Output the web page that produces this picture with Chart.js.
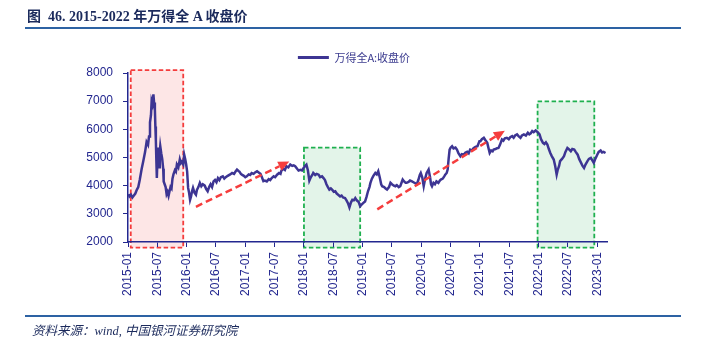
<!DOCTYPE html>
<html><head><meta charset="utf-8">
<script src="https://cdn.jsdelivr.net/npm/chart.js@4.4.0/dist/chart.umd.min.js"></script>
<style>
html,body{margin:0;padding:0;background:#fff;width:701px;height:340px;overflow:hidden}
#wrap{position:relative;width:701px;height:340px}
#c{position:absolute;left:0;top:0}
.title{position:absolute;left:27px;top:5px;font:bold 14px "Liberation Serif","Noto Sans CJK SC",serif;color:#1b2a5c;white-space:nowrap}
.rule{position:absolute;left:25px;width:656px;height:2px;background:#2d62a3}
.src{position:absolute;left:32px;top:320px;font:italic 12.5px "Liberation Serif","Noto Sans CJK SC",serif;color:#1b2a5c;white-space:nowrap}
</style></head>
<body><div id="wrap">
<canvas id="c" width="701" height="340"></canvas>
<div class="title">图&nbsp; 46. 2015-2022 年万得全 A 收盘价</div>
<div class="rule" style="top:27px"></div>
<div class="rule" style="top:315px"></div>
<div class="src">资料来源：wind, 中国银河证券研究院</div>
</div>
<script>
const seriesName = '万得全A:收盘价';
const dates = [
'2015-01-05','2015-01-10','2015-01-19','2015-01-28','2015-02-07','2015-02-16','2015-02-25','2015-03-04','2015-03-13','2015-03-25',
'2015-04-04','2015-04-16','2015-04-25','2015-05-04','2015-05-10','2015-05-16','2015-05-22','2015-05-26','2015-06-01','2015-06-07',
'2015-06-11','2015-06-16','2015-06-19','2015-06-22','2015-06-25','2015-06-28','2015-07-01','2015-07-07','2015-07-10','2015-07-13',
'2015-07-16','2015-07-19','2015-07-25','2015-08-01','2015-08-07','2015-08-10','2015-08-16','2015-08-22','2015-08-28','2015-09-04',
'2015-09-10','2015-09-16','2015-09-22','2015-09-28','2015-10-04','2015-10-10','2015-10-19','2015-10-25','2015-11-01','2015-11-10',
'2015-11-19','2015-11-25','2015-12-01','2015-12-10','2015-12-16','2015-12-22','2015-12-28',
'2016-01-04','2016-01-10','2016-01-16','2016-01-22','2016-01-28','2016-02-04','2016-02-10','2016-02-19','2016-02-28','2016-03-04',
'2016-03-13','2016-03-22','2016-04-01','2016-04-10','2016-04-22','2016-05-01','2016-05-10','2016-05-19','2016-05-28','2016-06-07',
'2016-06-16','2016-06-25','2016-07-04','2016-07-13','2016-07-22','2016-08-01','2016-08-13','2016-08-22','2016-09-01','2016-09-13',
'2016-09-28','2016-10-10','2016-10-22','2016-11-01','2016-11-10','2016-11-19','2016-11-25','2016-12-04','2016-12-10','2016-12-22',
'2017-01-01','2017-01-10','2017-01-22','2017-02-01','2017-02-10','2017-02-22','2017-03-01','2017-03-13','2017-03-25','2017-04-04',
'2017-04-13','2017-04-22','2017-05-01','2017-05-13','2017-05-25','2017-06-04','2017-06-13','2017-06-25','2017-07-04','2017-07-16',
'2017-07-28','2017-08-07','2017-08-13','2017-08-25','2017-09-04','2017-09-13','2017-09-25','2017-10-07','2017-10-19','2017-10-28',
'2017-11-07','2017-11-19','2017-11-28','2017-12-10','2017-12-19','2017-12-28',
'2018-01-07','2018-01-16','2018-01-25','2018-02-04','2018-02-13','2018-02-22','2018-02-28','2018-03-10','2018-03-19','2018-04-01',
'2018-04-10','2018-04-22','2018-05-01','2018-05-10','2018-05-19','2018-05-28','2018-06-07','2018-06-16','2018-06-25','2018-07-04',
'2018-07-13','2018-07-22','2018-08-01','2018-08-13','2018-08-22','2018-09-01','2018-09-13','2018-09-22','2018-10-01','2018-10-10',
'2018-10-19','2018-10-28','2018-11-07','2018-11-16','2018-11-25','2018-12-07','2018-12-16','2018-12-25',
'2019-01-04','2019-01-16','2019-01-25','2019-02-04','2019-02-13','2019-02-19','2019-02-28','2019-03-07','2019-03-19','2019-03-28',
'2019-04-07','2019-04-16','2019-04-25','2019-05-01','2019-05-13','2019-05-22','2019-06-01','2019-06-13','2019-06-22','2019-07-01',
'2019-07-13','2019-07-22','2019-08-01','2019-08-13','2019-08-22','2019-09-01','2019-09-07','2019-09-16','2019-09-25','2019-10-01',
'2019-10-13','2019-10-22','2019-11-04','2019-11-13','2019-11-25','2019-12-04','2019-12-13','2019-12-22','2019-12-28',
'2020-01-07','2020-01-16','2020-01-25','2020-02-04','2020-02-16','2020-02-25','2020-03-01','2020-03-07','2020-03-16','2020-03-25',
'2020-04-04','2020-04-16','2020-04-25','2020-05-01','2020-05-13','2020-05-22','2020-05-28','2020-06-07','2020-06-13','2020-06-19',
'2020-06-25','2020-07-01','2020-07-10','2020-07-19','2020-08-01','2020-08-10','2020-08-19','2020-09-01','2020-09-10','2020-09-22',
'2020-10-01','2020-10-13','2020-10-22','2020-11-01','2020-11-13','2020-11-22','2020-12-04','2020-12-16','2020-12-28',
'2021-01-04','2021-01-13','2021-01-25','2021-02-04','2021-02-16','2021-02-25','2021-03-01','2021-03-10','2021-03-19','2021-03-25',
'2021-04-07','2021-04-16','2021-04-25','2021-05-04','2021-05-16','2021-05-25','2021-06-04','2021-06-16','2021-06-28','2021-07-07',
'2021-07-19','2021-07-28','2021-08-07','2021-08-19','2021-08-28','2021-09-10','2021-09-19','2021-10-01','2021-10-13','2021-10-25',
'2021-11-04','2021-11-13','2021-11-22','2021-12-01','2021-12-13','2021-12-25',
'2022-01-07','2022-01-16','2022-01-28','2022-02-07','2022-02-16','2022-02-25','2022-03-04','2022-03-13','2022-03-22','2022-04-04',
'2022-04-13','2022-04-22','2022-04-28','2022-05-07','2022-05-13','2022-05-25','2022-06-07','2022-06-16','2022-06-28','2022-07-07',
'2022-07-19','2022-07-28','2022-08-10','2022-08-19','2022-09-01','2022-09-10','2022-09-22','2022-10-01','2022-10-10','2022-10-19',
'2022-11-01','2022-11-10','2022-11-22','2022-12-01','2022-12-10','2022-12-19',
'2023-01-01','2023-01-10','2023-01-22','2023-02-01','2023-02-10','2023-02-22'
];
const closes = [
3700,3620,3680,3580,3650,3720,3850,3950,4200,4600,
4850,5200,5550,5450,5750,6250,6500,7000,6900,7240,
6950,6700,6100,5600,4900,4270,4800,5350,4900,4650,
5200,5400,5150,4950,4600,4150,4050,3950,3700,3780,
3640,3800,3950,3900,4250,4400,4550,4500,4750,4650,
4930,4800,4850,4750,5100,4950,4750,
4500,3920,3750,3500,3620,3800,3920,3750,3680,3850,
3950,4100,3980,4050,4000,3880,3800,3950,4050,3950,
4150,4200,4120,4270,4200,4300,4330,4250,4300,4350,
4400,4450,4420,4500,4570,4520,4500,4420,4390,4350,
4300,4330,4400,4380,4450,4420,4470,4510,4460,4420,
4300,4160,4180,4150,4230,4200,4270,4330,4300,4390,
4450,4420,4540,4600,4560,4690,4650,4750,4700,4720,
4690,4600,4540,4560,4540,4620,
4700,4750,4550,4180,4300,4380,4450,4380,4420,4390,
4300,4330,4270,4200,4050,3950,3860,3900,3850,3780,
3800,3720,3680,3620,3650,3580,3560,3480,3380,3230,
3400,3500,3480,3560,3480,3420,3270,3330,
3380,3440,3600,3800,3950,4100,4250,4350,4450,4400,
4510,4300,4050,3980,3950,3900,3860,3950,4100,4050,
4000,3980,4020,3950,3980,4120,4215,4150,4100,4100,
4130,4180,4150,4120,4080,4060,4200,4380,4450,
4300,3980,4250,4450,4570,4300,4050,3980,4100,4050,
4150,4100,4180,4215,4250,4330,4390,4450,4570,4950,
5280,5350,5400,5320,5350,5280,5150,5045,5120,5100,
5165,5200,5150,5280,5250,5330,5380,5400,5580,
5580,5650,5700,5620,5520,5300,5163,5250,5220,5280,
5300,5330,5340,5450,5640,5600,5680,5700,5650,5720,
5760,5700,5780,5820,5760,5700,5780,5820,5780,5880,
5820,5860,5940,5900,5960,5900,
5820,5650,5520,5480,5540,5460,5300,5163,5050,4928,
4700,4393,4550,4700,4870,4950,5045,5200,5340,5300,
5224,5300,5280,5200,5100,4950,4810,4700,4630,4750,
4870,4950,4985,4900,4810,4950,
5100,5200,5250,5180,5200,5160
];
const xTickLabels = ['2015-01','2015-07','2016-01','2016-07','2017-01','2017-07','2018-01','2018-07','2019-01','2019-07',
  '2020-01','2020-07','2021-01','2021-07','2022-01','2022-07','2023-01'];
const yTicks = [2000,3000,4000,5000,6000,7000,8000];
// highlighted periods [start, end, top value, bottom value, kind]
const boxPeriods = [
  ['2015-01-18','2015-12-10', 8100, 1800, 'red'],
  ['2018-01-01','2018-12-16', 5350, 1800, 'green'],
  ['2021-12-25','2022-12-13', 6990, 1800, 'green']
];
// trend arrows [from date, from value, to date, to value]
const trendArrows = [
  ['2016-02-28', 3250, '2017-10-01', 4860],
  ['2019-04-01', 3160, '2021-06-04', 5950]
];

const toX = s => { const [y,m,d] = s.split('-').map(Number); return (y-2015)*12 + (m-1) + ((d||1)-1)/30; };
const points = dates.map((d,i) => ({x: toX(d), y: closes[i]}));
const xTickMap = {};
xTickLabels.forEach(l => { xTickMap[toX(l)] = l; });

const lineColor = '#3d3593';
const axisColor = '#23278f';
const tickFont = {family:'"Liberation Sans", Arial, sans-serif', size:12};

const annot = {
  id:'annot',
  beforeDraw(chart){
    const {ctx, scales:{x,y}} = chart;
    ctx.save();
    boxPeriods.forEach(b => {
      const x0 = x.getPixelForValue(toX(b[0])), x1 = x.getPixelForValue(toX(b[1]));
      const y0 = y.getPixelForValue(b[2]), y1 = y.getPixelForValue(b[3]);
      const red = b[4]==='red';
      ctx.fillStyle = red ? '#fde6e6' : '#e3f4e9';
      ctx.fillRect(x0,y0,x1-x0,y1-y0);
      ctx.setLineDash([4.5,2.5]);
      ctx.lineWidth = 1.8;
      ctx.strokeStyle = red ? '#f43c3c' : '#1fb04f';
      ctx.strokeRect(x0,y0,x1-x0,y1-y0);
    });
    ctx.restore();
  },
  afterDatasetsDraw(chart){
    const {ctx, scales:{x,y}} = chart;
    ctx.save();
    trendArrows.forEach(a => {
      const xa = x.getPixelForValue(toX(a[0])), ya = y.getPixelForValue(a[1]);
      const xb = x.getPixelForValue(toX(a[2])), yb = y.getPixelForValue(a[3]);
      const ang = Math.atan2(yb-ya, xb-xa);
      const hl = 11, hw = 5;
      const xe = xb - Math.cos(ang)*hl, ye = yb - Math.sin(ang)*hl;
      ctx.strokeStyle = '#f53d3d';
      ctx.fillStyle = '#f53d3d';
      ctx.lineWidth = 2.5;
      ctx.setLineDash([7,4]);
      ctx.beginPath(); ctx.moveTo(xa,ya); ctx.lineTo(xe,ye); ctx.stroke();
      ctx.setLineDash([]);
      ctx.beginPath();
      ctx.moveTo(xb,yb);
      ctx.lineTo(xe + Math.sin(ang)*hw, ye - Math.cos(ang)*hw);
      ctx.lineTo(xe - Math.sin(ang)*hw, ye + Math.cos(ang)*hw);
      ctx.closePath(); ctx.fill();
    });
    ctx.restore();
  }
};

new Chart(document.getElementById('c'), {
  type:'line',
  data:{datasets:[{label:seriesName, data:points, borderColor:lineColor, backgroundColor:lineColor, borderWidth:2.5, pointRadius:0, tension:0, fill:false}]},
  options:{
    responsive:false, animation:false, devicePixelRatio:1,
    layout:{padding:{left:101, right:94, top:42, bottom:38}},
    plugins:{
      legend:{display:true, position:'top', align:'center',
        labels:{boxWidth:31, boxHeight:3, padding:10, color:'#3b3b8f',
          font:{family:'"Noto Sans CJK SC", sans-serif', size:11},
          generateLabels: () => [{text:seriesName, fillStyle:lineColor, strokeStyle:lineColor, lineWidth:0, hidden:false, datasetIndex:0, fontColor:'#3b3b8f'}]
        }},
      tooltip:{enabled:false}
    },
    scales:{
      x:{type:'linear', min:0, max:98,
        afterFit: s => { s.height = 60; },
        afterBuildTicks: s => { s.ticks = xTickLabels.map(l => ({value: toX(l)})); },
        grid:{drawOnChartArea:false, drawTicks:true, tickLength:5, color:axisColor, lineWidth:1},
        border:{display:true, color:axisColor, width:1.5},
        ticks:{autoSkip:false, minRotation:90, maxRotation:90, padding:5, color:axisColor, font:tickFont,
          callback: v => xTickMap[v] || ''}
      },
      y:{min:2000, max:8000,
        afterFit: s => { s.width = 27; s._computeLabelArea = () => undefined; },
        afterBuildTicks: s => { s.ticks = yTicks.map(v => ({value:v})); },
        grid:{drawOnChartArea:false, drawTicks:true, tickLength:5, color:axisColor, lineWidth:1},
        border:{display:true, color:axisColor, width:1.5},
        ticks:{padding:10, color:axisColor, font:tickFont, callback: v => String(v)}
      }
    }
  },
  plugins:[annot]
});
</script>
</body></html>
